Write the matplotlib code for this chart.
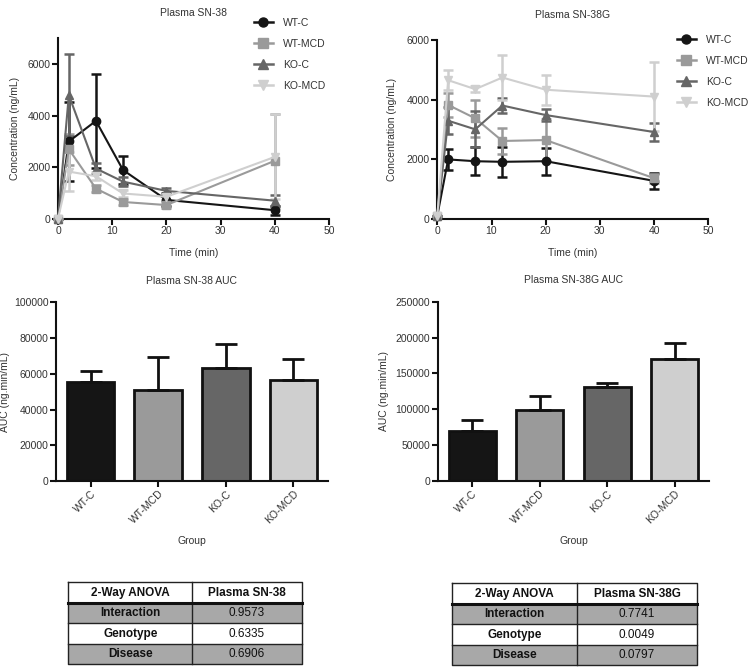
import matplotlib
matplotlib.use("Agg")
import matplotlib.pyplot as plt
from matplotlib.lines import Line2D
import numpy as np

plt.rcParams['font.family'] = ['Liberation Sans', 'DejaVu Sans']

# ---- time course data ----
times = [0, 2, 7, 12, 20, 40]
groups = ['WT-C', 'WT-MCD', 'KO-C', 'KO-MCD']

sn38_mean = {
    'WT-C': [0, 3000, 3800, 1890, 730, 330],
    'WT-MCD': [0, 2700, 1170, 650, 530, 2250],
    'KO-C': [0, 4800, 1950, 1440, 1080, 700],
    'KO-MCD': [0, 1830, 1650, 980, 850, 2400],
}
sn38_sd = {
    'WT-C': [0, 1550, 1830, 560, 250, 170],
    'WT-MCD': [0, 600, 120, 120, 100, 1830],
    'KO-C': [0, 1580, 200, 180, 120, 220],
    'KO-MCD': [0, 750, 150, 150, 120, 1650],
}
sn38g_mean = {
    'WT-C': [100, 1990, 1930, 1910, 1930, 1270],
    'WT-MCD': [100, 3820, 3370, 2610, 2640, 1360],
    'KO-C': [100, 3290, 3000, 3800, 3480, 2910],
    'KO-MCD': [100, 4650, 4350, 4740, 4330, 4100],
}
sn38g_sd = {
    'WT-C': [0, 360, 470, 500, 450, 260],
    'WT-MCD': [0, 400, 620, 440, 700, 150],
    'KO-C': [0, 450, 600, 240, 200, 300],
    'KO-MCD': [0, 330, 100, 760, 500, 1150],
}

# ---- AUC data ----
auc_sn38 = [55600, 50700, 63000, 56500]
auc_sn38_err = [6000, 18700, 13800, 12000]
auc_sn38g = [69700, 99000, 130600, 170100]
auc_sn38g_err = [14900, 20000, 5600, 22300]

# ---- ANOVA tables ----
anova_rows = ['Interaction', 'Genotype', 'Disease']
anova_sn38 = ['0.9573', '0.6335', '0.6906']
anova_sn38g = ['0.7741', '0.0049', '0.0797']

colors = {'WT-C': '#151515', 'WT-MCD': '#9a9a9a', 'KO-C': '#666666', 'KO-MCD': '#cfcfcf'}
markers = {'WT-C': 'o', 'WT-MCD': 's', 'KO-C': '^', 'KO-MCD': 'v'}

FS = 7.5
W, H = 749, 668
fig = plt.figure(figsize=(W / 100, H / 100), dpi=100)


def px_axes(x0, x1, ytop, ybot):
    return fig.add_axes([x0 / W, 1 - ybot / H, (x1 - x0) / W, (ybot - ytop) / H])


def style(ax):
    for s in ['top', 'right']:
        ax.spines[s].set_visible(False)
    for s in ['left', 'bottom']:
        ax.spines[s].set_linewidth(1.5)
        ax.spines[s].set_color('#111111')
    ax.tick_params(direction='out', length=4, width=1.5, labelsize=FS,
                   colors='#111111', labelcolor='#333333', pad=1.5)


def time_plot(ax, mean, sd, ymax, title, ylabel_x, legend_xy):
    style(ax)
    handles = []
    for g in groups:
        c = colors[g]
        h = ax.errorbar(times, mean[g], yerr=sd[g], color=c, marker=markers[g],
                        markersize=6, linewidth=1.5, elinewidth=1.8, capsize=3.5,
                        capthick=1.8, clip_on=False, zorder=3)
        for art in h.get_children():
            art.set_clip_on(False)
        handles.append(Line2D([], [], color=c, marker=markers[g], markersize=6.5,
                              linewidth=1.8))
    ax.set_xlim(0, 50)
    ax.set_ylim(0, ymax)
    ax.set_xticks([0, 10, 20, 30, 40, 50])
    ax.set_yticks([0, 2000, 4000, 6000])
    ax.set_xlabel('Time (min)', fontsize=FS, color='#333333')
    ax.xaxis.set_label_coords(0.5, -0.165)
    ax.set_ylabel('Concentration (ng/mL)', fontsize=FS, color='#333333')
    ax.yaxis.set_label_coords(ylabel_x, 0.5)
    ax.text(0.5, 1.14, title, transform=ax.transAxes, ha='center', va='center',
            fontsize=FS, color='#333333')
    leg = fig.legend(handles=handles, labels=groups, loc='upper left',
                     bbox_to_anchor=legend_xy, frameon=False, fontsize=FS,
                     handlelength=1.8, handletextpad=1.0, labelspacing=1.05,
                     borderpad=0, borderaxespad=0)
    for t in leg.get_texts():
        t.set_color('#333333')


def auc_plot(ax, vals, errs, ymax, yticks, title, ylabel_x):
    style(ax)
    x = np.arange(len(groups))
    ax.bar(x, vals, width=0.7, color=[colors[g] for g in groups],
           edgecolor='#111111', linewidth=2.0, zorder=2,
           yerr=[np.zeros(len(errs)), errs],
           error_kw=dict(ecolor='#111111', elinewidth=2.0, capsize=8, capthick=2.0))
    ax.set_xlim(-0.51, 3.51)
    ax.set_ylim(0, ymax)
    ax.set_yticks(yticks)
    ax.set_xticks(x)
    ax.set_xticklabels(groups, rotation=45, ha='right', rotation_mode='anchor')
    ax.set_xlabel('Group', fontsize=FS, color='#333333')
    ax.xaxis.set_label_coords(0.5, -0.307)
    ax.set_ylabel('AUC (ng.min/mL)', fontsize=FS, color='#333333')
    ax.yaxis.set_label_coords(ylabel_x, 0.5)
    ax.text(0.5, 1.12, title, transform=ax.transAxes, ha='center', va='center',
            fontsize=FS, color='#333333')


def anova_table(x0, xs, x1, ytop, ybot, header2, values):
    ax = fig.add_axes([x0 / W, 1 - ybot / H, (x1 - x0) / W, (ybot - ytop) / H])
    ax.set_xlim(0, 1)
    ax.set_ylim(4, 0)
    ax.axis('off')
    split = (xs - x0) / (x1 - x0)
    fills = ['white', '#a8a8a8', 'white', '#a8a8a8']
    col1 = ['2-Way ANOVA'] + anova_rows
    col2 = [header2] + values
    for i in range(4):
        ax.add_patch(plt.Rectangle((0, i), 1, 1, facecolor=fills[i], edgecolor='none'))
        ax.text(split / 2, i + 0.52, col1[i], ha='center', va='center',
                fontsize=8.5, fontweight='bold', color='#111111')
        ax.text((1 + split) / 2, i + 0.52, col2[i], ha='center', va='center',
                fontsize=8.5, fontweight='bold' if i == 0 else 'normal', color='#111111')
    lw = 1.0
    ax.plot([0, 1, 1, 0, 0], [0, 0, 4, 4, 0], color='#222222', lw=lw, clip_on=False)
    ax.plot([split, split], [0, 4], color='#222222', lw=lw, clip_on=False)
    ax.plot([0, 1], [1, 1], color='#111111', lw=2.2, clip_on=False)
    ax.plot([0, 1], [2, 2], color='#222222', lw=lw, clip_on=False)
    ax.plot([0, 1], [3, 3], color='#222222', lw=lw, clip_on=False)


ax1 = px_axes(58, 329, 38.5, 218.7)
time_plot(ax1, sn38_mean, sn38_sd, 7000, 'Plasma SN-38', -0.14, (254 / W, 1 - 18 / H))

ax2 = px_axes(437.3, 708.3, 40, 218.7)
time_plot(ax2, sn38g_mean, sn38g_sd, 6000, 'Plasma SN-38G', -0.15, (677 / W, 1 - 35 / H))

ax3 = px_axes(56, 328, 302.3, 481)
auc_plot(ax3, auc_sn38, auc_sn38_err, 100000, [0, 20000, 40000, 60000, 80000, 100000],
         'Plasma SN-38 AUC', -0.17)

ax4 = px_axes(437.7, 709.3, 301.7, 481)
auc_plot(ax4, auc_sn38g, auc_sn38g_err, 250000, [0, 50000, 100000, 150000, 200000, 250000],
         'Plasma SN-38G AUC', -0.18)

anova_table(68.3, 192.3, 301.7, 582.3, 664.3, 'Plasma SN-38', anova_sn38)
anova_table(452, 577, 697, 583, 665, 'Plasma SN-38G', anova_sn38g)

fig.savefig('out.png', dpi=100)
